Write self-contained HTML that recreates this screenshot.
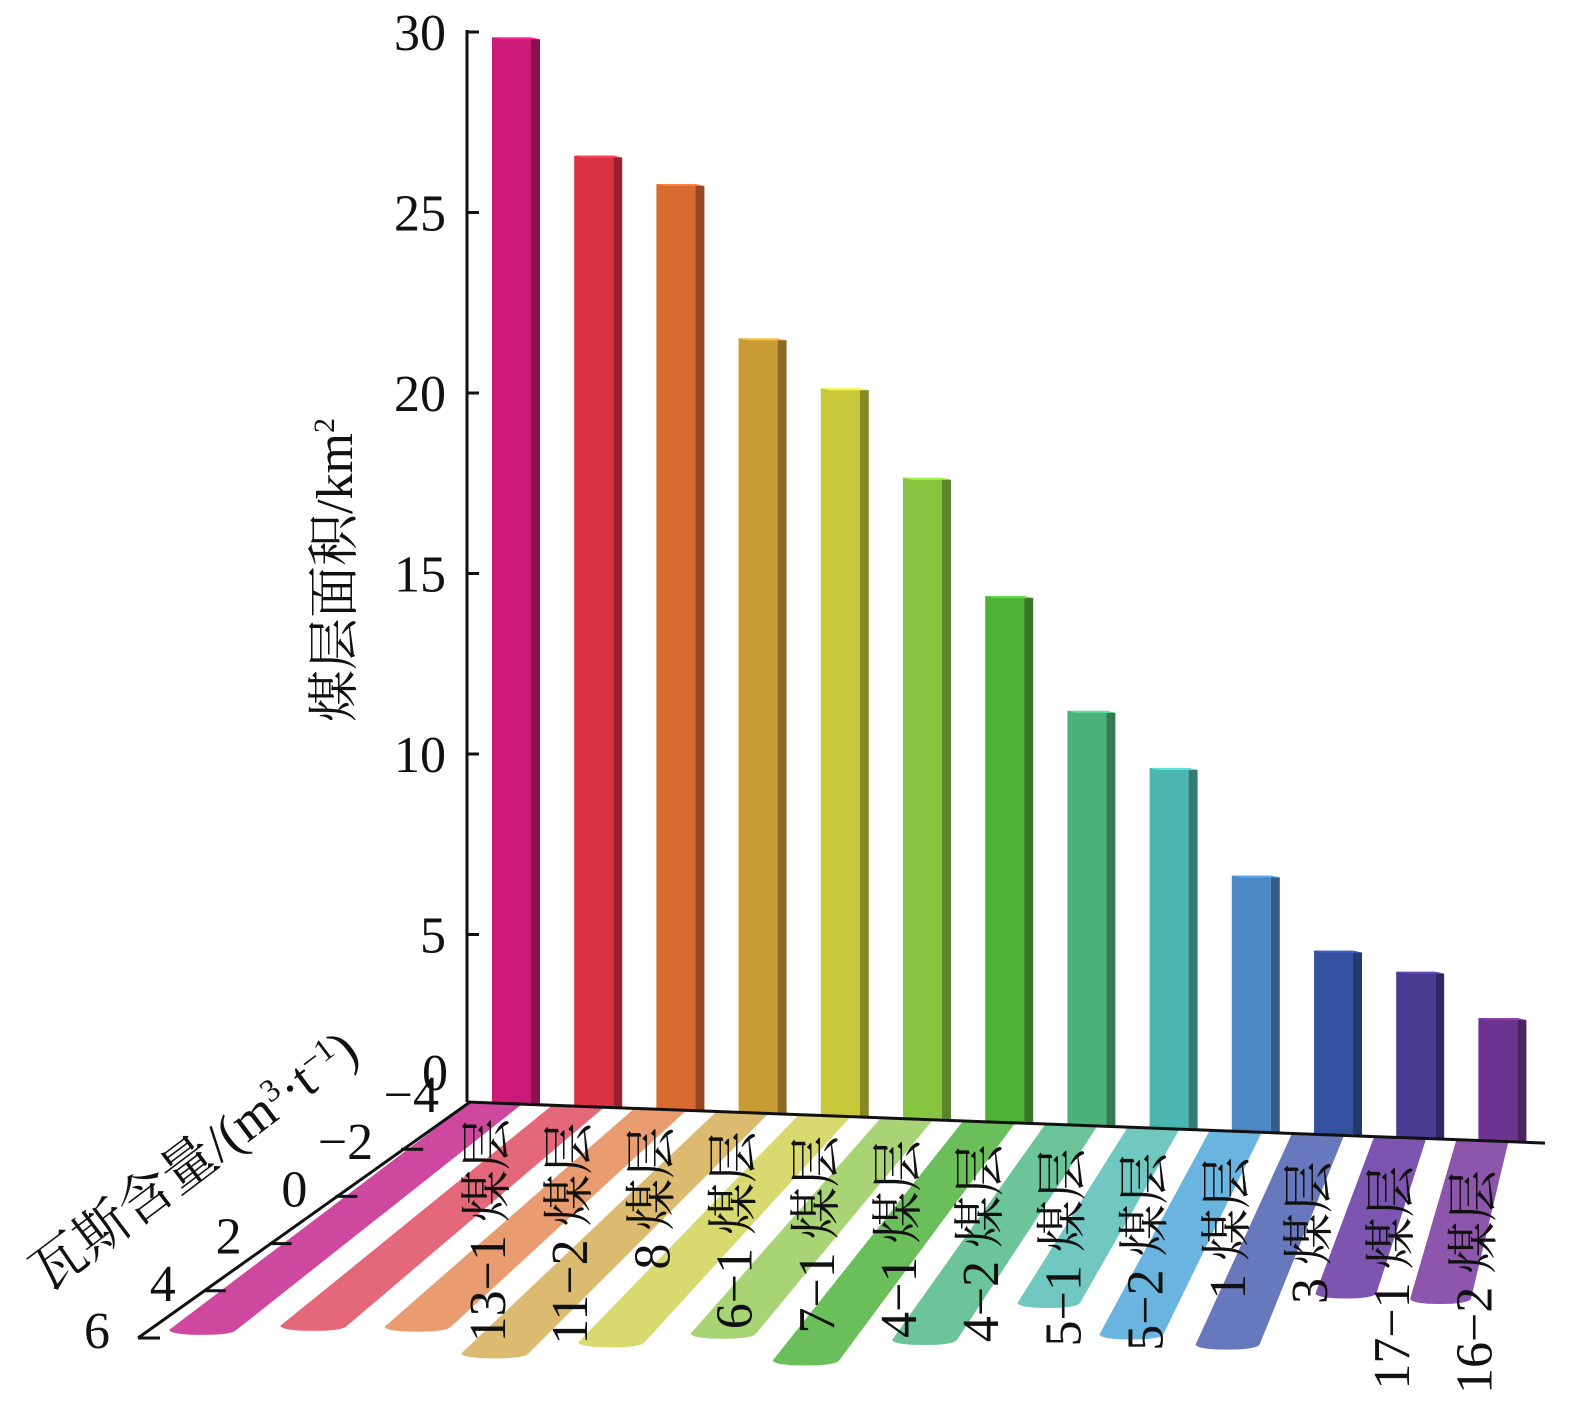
<!DOCTYPE html>
<html><head><meta charset="utf-8"><style>
html,body{margin:0;padding:0;background:#fff}
svg{display:block}
text{font-family:"Liberation Serif","Noto Serif CJK SC","Noto Sans CJK SC",serif;fill:#111}
</style></head><body>
<svg id="chart" width="1575" height="1403" viewBox="0 0 1575 1403" xmlns="http://www.w3.org/2000/svg">
<g id="ribbons"></g>
<g id="labels"></g>
<g id="bars"></g>
<g id="axes"></g>
</svg>
<script>
const categories = ["13−1 煤层","11−2 煤层","8 煤层","6−1 煤层","7−1 煤层","4−1 煤层","4−2 煤层","5−1 煤层","5−2 煤层","1 煤层","3 煤层","17−1 煤层","16−2 煤层"];
const areaValues = [29.6, 26.4, 25.7, 21.5, 20.2, 17.8, 14.6, 11.5, 10.0, 7.1, 5.1, 4.6, 3.4];
const gasValues = [5.7, 5.4, 5.3, 6.3, 5.7, 5.2, 6.2, 5.2, 3.5, 4.7, 5.0, 2.7, 2.8];
const areaTicks = [5, 10, 15, 20, 25, 30];
const gasTicks = [-4, -2, 0, 2, 4, 6];
const barColors = ["#cd1a78","#dc3245","#db6a30","#c99b35","#c7c93a","#87c43f","#4fb234","#4bb37a","#4bb5af","#4a89c6","#3452a0","#4b3a92","#6d3390"];
const ribbonColors = ["#cf48a0","#e5677a","#e89c70","#dcbb70","#d8da70","#a8d476","#6abf5a","#6cc49a","#70c8c0","#6ab4e0","#6878bd","#7b55b0","#8e55ad"];

const NS = "http://www.w3.org/2000/svg";
function mk(tag, attrs, parent){const e=document.createElementNS(NS,tag);for(const k in attrs)e.setAttribute(k,attrs[k]);parent.appendChild(e);return e;}
function shade(hex,f){const n=parseInt(hex.slice(1),16);let r=n>>16,g=(n>>8)&255,b=n&255;r=Math.round(r*f);g=Math.round(g*f);b=Math.round(b*f);return `rgb(${Math.min(255,r)},${Math.min(255,g)},${Math.min(255,b)})`;}

const AX = 467, AY = 1102;
const UNIT = 36.0;
function baseY(x){return AY + (x - AX) * 0.0381;}
function barX(i){return 492 + i * 82.2;}
function yTick(v){return 32 + (30 - v) * 36.1;}
const VP = {x:1747, y:127};
function gasT(g){return (g + 4) / 10;}
function alongVP(x0,y0,y){return x0 + (VP.x - x0) * (y - y0) / (VP.y - y0);}

const gR = document.getElementById('ribbons');
const gL = document.getElementById('labels');
const gB = document.getElementById('bars');
const gA = document.getElementById('axes');

categories.forEach((c,i)=>{
  const bx = barX(i);
  const xl = bx - 22, xr = bx + 30;
  const yl = baseY(xl), yr = baseY(xr);
  const yEnd = baseY(bx) + gasT(gasValues[i]) * 236;
  const xle = alongVP(xl, yl, yEnd), xre = alongVP(xr, yr, yEnd);
  const p = mk('path',{d:`M${xl},${yl} L${xr},${yr} L${xre},${yEnd-2} Q${xre-4},${yEnd+3} ${(xle+xre)/2},${yEnd+3} Q${xle+2},${yEnd+3} ${xle},${yEnd-2} Z`, fill:ribbonColors[i]}, gR);
  
  

  const lx = bx - 5 + 18, ly = 1118 + i * 4.3;
  const t = mk('text',{x:lx, y:ly, 'font-size':52, 'text-anchor':'end', transform:`rotate(-90 ${lx} ${ly})`}, gL);
  t.textContent = c;
  
  

  const b0 = baseY(bx);
  const top = b0 - areaValues[i] * UNIT;
  const g = mk('g',{}, gB);
  
  
  mk('rect',{x:bx, y:top, width:39, height:b0-top, fill:barColors[i]}, g);
  mk('polygon',{points:`${bx+39},${top} ${bx+48},${top+2} ${bx+48},${b0+1} ${bx+39},${b0}`, fill:shade(barColors[i],0.68)}, g);
  mk('polygon',{points:`${bx},${top} ${bx+39},${top} ${bx+48},${top+2} ${bx+9},${top+2}`, fill:shade(barColors[i],1.25)}, g);
});

const ya = mk('line',{x1:AX,y1:30,x2:AX,y2:AY,stroke:'#111','stroke-width':3}, gA);
 
areaTicks.forEach(v=>{
  const y = yTick(v);
  const l = mk('line',{x1:AX,y1:y,x2:AX+12,y2:y,stroke:'#111','stroke-width':3}, gA);
   
  const t = mk('text',{x:446,y:y+18,'font-size':52,'text-anchor':'end'}, gA);
  t.textContent = v;
   
});
const z = mk('text',{x:448,y:1090,'font-size':52,'text-anchor':'end'}, gA);
z.textContent = '0';
 

const bl = mk('line',{x1:AX,y1:AY,x2:1545,y2:baseY(1545),stroke:'#111','stroke-width':3}, gA);
 

const dEnd = {x:138, y:1338};
const da = mk('line',{x1:AX+3,y1:AY,x2:dEnd.x,y2:dEnd.y,stroke:'#111','stroke-width':3}, gA);
 
gasTicks.forEach(g=>{
  const t0 = gasT(g);
  const x = AX + (dEnd.x - AX) * t0, y = AY + (dEnd.y - AY) * t0;
  if (g > -4) {
    const l = mk('line',{x1:x,y1:y,x2:x+22,y2:y,stroke:'#111','stroke-width':3}, gA);
     
  }
  const t = mk('text',{x:x-28,y:y+10,'font-size':52,'text-anchor':'end'}, gA);
  t.textContent = g < 0 ? '−' + Math.abs(g) : g;
   
});

const yt = mk('text',{x:352,y:570,'font-size':52,'text-anchor':'middle',transform:'rotate(-90 352 570)'}, gA);
yt.innerHTML = '煤层面积/km<tspan dy="-18" font-size="30">2</tspan>';
 
const gt = mk('text',{x:205,y:1175,'font-size':54,'text-anchor':'middle',transform:'rotate(-37 205 1175)'}, gA);
gt.innerHTML = '瓦斯含量/(m<tspan dy="-18" font-size="32">3</tspan><tspan dy="18">·t</tspan><tspan dy="-18" font-size="32">−1</tspan><tspan dy="18">)</tspan>';
 
</script>
</body></html>
